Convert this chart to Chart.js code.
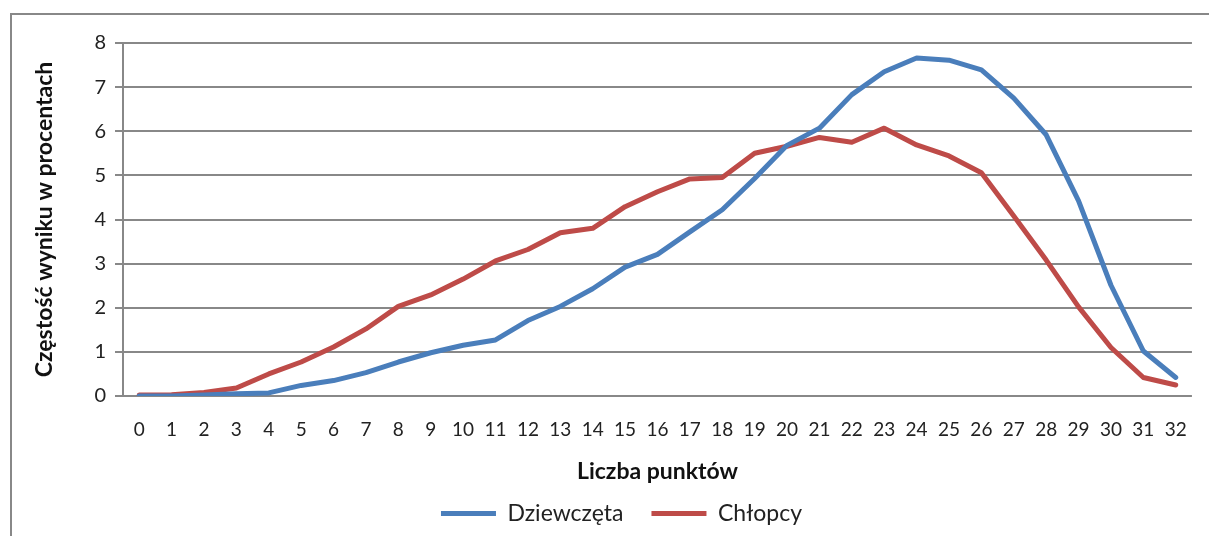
<!DOCTYPE html>
<html>
<head>
<meta charset="utf-8">
<script src="https://cdn.jsdelivr.net/npm/chart.js@4"></script>
<style>
  html, body { margin: 0; padding: 0; background: #fff; }
  #ramka { position: absolute; left: 10px; top: 13px; width: 1300px; height: 600px;
           border-left: 2px solid #888; border-top: 2px solid #888; }
  #wrap { position: absolute; left: 0; top: 0; width: 1209px; height: 536px; }
</style>
</head>
<body>
<div id="ramka"></div>
<div id="wrap"><canvas id="myChart"></canvas></div>
<script>
// liczba punktów 0..32
const punkty = ['0','1','2','3','4','5','6','7','8','9','10','11','12','13','14','15','16',
                '17','18','19','20','21','22','23','24','25','26','27','28','29','30','31','32'];
const dziewczeta = [0, 0, 0.02, 0.05, 0.07, 0.24, 0.35, 0.53, 0.77, 0.98, 1.15, 1.27, 1.71, 2.03,
                    2.43, 2.92, 3.21, 3.72, 4.22, 4.93, 5.68, 6.07, 6.83, 7.35, 7.66, 7.61, 7.39,
                    6.75, 5.92, 4.42, 2.51, 1.02, 0.42];
const chlopcy = [0.02, 0.03, 0.08, 0.18, 0.5, 0.77, 1.11, 1.52, 2.03, 2.29, 2.65, 3.06, 3.32, 3.7,
                 3.8, 4.29, 4.63, 4.92, 4.95, 5.5, 5.66, 5.86, 5.75, 6.07, 5.69, 5.44, 5.06,
                 4.08, 3.08, 2.02, 1.1, 0.42, 0.25];

const czcionka = 'Lato, "Open Sans", sans-serif';

const ctx = document.getElementById('myChart').getContext('2d');
new Chart(ctx, {
  type: 'line',
  data: {
    labels: punkty,
    datasets: [
      {
        label: 'Dziewczęta',
        data: dziewczeta,
        borderColor: '#4A7EBB',
        backgroundColor: '#4A7EBB',
        borderWidth: 5,
        borderCapStyle: 'round',
        borderJoinStyle: 'round',
        pointRadius: 0,
        tension: 0
      },
      {
        label: 'Chłopcy',
        data: chlopcy,
        borderColor: '#BE4B48',
        backgroundColor: '#BE4B48',
        borderWidth: 5,
        borderCapStyle: 'round',
        borderJoinStyle: 'round',
        pointRadius: 0,
        tension: 0
      }
    ]
  },
  options: {
    responsive: true,
    maintainAspectRatio: false,
    animation: false,
    layout: { padding: { left: 50, right: 16, top: 43, bottom: 1 } },
    plugins: {
      tooltip: { enabled: false },
      legend: {
        position: 'bottom',
        labels: {
          usePointStyle: true,
          pointStyle: 'line',
          pointStyleWidth: 55,
          padding: 28,
          color: '#222',
          font: { family: czcionka, size: 23 }
        }
      }
    },
    scales: {
      x: {
        offset: true,
        grid: { display: false, drawTicks: false },
        border: { display: false },
        ticks: { color: '#222', padding: 22, maxRotation: 0, autoSkip: false,
                 font: { family: czcionka, size: 19 } },
        title: { display: true, text: 'Liczba punktów', color: '#111',
                 font: { family: czcionka, size: 23, weight: 'bold' },
                 padding: { top: 0, bottom: -11 } },
        afterFit: (s) => { s.height = 78; }
      },
      y: {
        min: 0,
        max: 8,
        ticks: { stepSize: 1, color: '#222', padding: 9,
                 font: { family: czcionka, size: 20 } },
        grid: { color: '#888', lineWidth: 2, tickLength: 8, drawTicks: true },
        border: { display: true, color: '#888', width: 2 },
        title: { display: true, text: 'Częstość wyniku w procentach', color: '#111',
                 font: { family: czcionka, size: 23, weight: 'bold' },
                 padding: { top: -19, bottom: 0 } },
        afterFit: (s) => { s.width = 73; }
      }
    }
  }
});
</script>
</body>
</html>
